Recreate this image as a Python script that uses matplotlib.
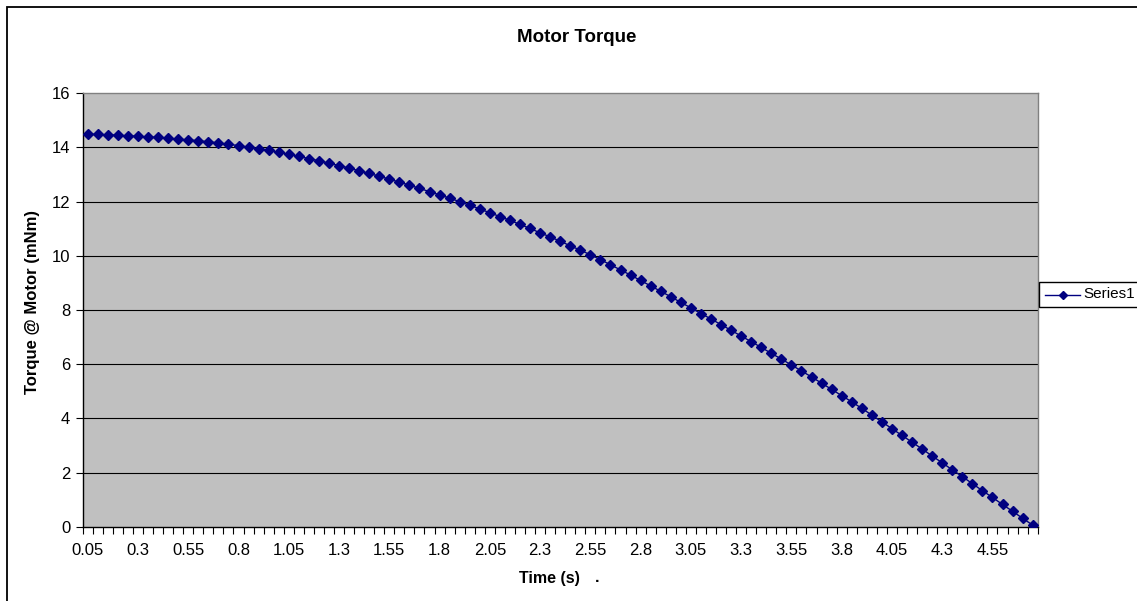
import numpy as np
import matplotlib
matplotlib.use("Agg")
import matplotlib.pyplot as plt
from matplotlib.patches import Rectangle
from matplotlib.lines import Line2D

# ---- data ----
time_labels = [f"{0.05 * (i + 1):.2f}".rstrip("0").rstrip(".") for i in range(95)]
torque = [14.49, 14.48, 14.47, 14.45, 14.43, 14.41, 14.39, 14.37, 14.34, 14.31,
          14.28, 14.25, 14.21, 14.17, 14.12, 14.07, 14.01, 13.95, 13.89, 13.82,
          13.75, 13.67, 13.59, 13.51, 13.42, 13.33, 13.24, 13.14, 13.04, 12.94,
          12.83, 12.72, 12.61, 12.49, 12.37, 12.25, 12.13, 12.00, 11.87, 11.73,
          11.59, 11.45, 11.31, 11.16, 11.01, 10.85, 10.70, 10.54, 10.37, 10.21,
          10.04, 9.86, 9.67, 9.48, 9.29, 9.09, 8.89, 8.69, 8.49, 8.28,
          8.08, 7.87, 7.67, 7.46, 7.25, 7.04, 6.83, 6.62, 6.40, 6.19,
          5.97, 5.75, 5.53, 5.30, 5.07, 4.84, 4.61, 4.37, 4.12, 3.87,
          3.62, 3.37, 3.12, 2.87, 2.61, 2.36, 2.10, 1.85, 1.59, 1.33,
          1.08, 0.82, 0.57, 0.31, 0.06]
yticks = [0, 2, 4, 6, 8, 10, 12, 14, 16]
label_every = 5
series_name = "Series1"

W, H = 1137, 601
fig = plt.figure(figsize=(W / 100, H / 100), dpi=100)
plt.rcParams['font.family'] = ['Liberation Sans', 'DejaVu Sans']

# outer chart border (cut at right/bottom)
fig.add_artist(Rectangle((7 / W, -0.1), 1.2, 1 - 7 / H + 0.1, transform=fig.transFigure,
                         fill=False, edgecolor='black', linewidth=1.3))

L, R, T, B = 82.7, 1037.7, 93.3, 526.7
ax = fig.add_axes([L / W, 1 - B / H, (R - L) / W, (B - T) / H])
ax.set_facecolor('#C0C0C0')

x = np.arange(len(torque))
ax.plot(x, torque, color='#000080', linewidth=1.0, marker='D', markersize=5.3,
        markerfacecolor='#000080', markeredgecolor='#000080', zorder=3)

ax.set_xlim(-0.5, len(torque) - 0.5)
ax.set_ylim(0, 16)
ax.set_yticks(yticks)
ax.set_yticklabels([str(v) for v in yticks])
for v in yticks[1:-1]:
    ax.axhline(v, color='black', linewidth=0.8, zorder=1)

# category ticks between categories, labels at category centres
ax.set_xticks(np.arange(-0.5, len(torque), 1.0))
ax.set_xticklabels([])
ax.set_xticks(np.arange(0, len(torque), label_every), minor=True)
ax.set_xticklabels([time_labels[i] for i in range(0, len(torque), label_every)], minor=True)
ax.tick_params(axis='x', which='major', direction='out', length=5, width=0.8, color='black')
ax.tick_params(axis='x', which='minor', length=0, pad=12, labelsize=12)
ax.tick_params(axis='y', direction='out', length=5, width=0.8, pad=4, labelsize=12)

for s in ['left', 'bottom']:
    ax.spines[s].set_color('black')
    ax.spines[s].set_linewidth(1.0)
for s in ['top', 'right']:
    ax.spines[s].set_color('#808080')
    ax.spines[s].set_linewidth(1.0)

fig.text(577 / W, 1 - 37 / H, "Motor Torque", ha='center', va='center',
         fontsize=13.5, fontweight='bold')
fig.text(33 / W, 1 - 302 / H, "Torque @ Motor (mNm)", ha='center', va='center',
         rotation=90, fontsize=12, fontweight='bold')
fig.text(519 / W, 1 - 578 / H, "Time (s)", ha='left', va='center',
         fontsize=11.5, fontweight='bold')
fig.text(597 / W, 1 - 578 / H, ".", ha='center', va='center',
         fontsize=11.5, fontweight='bold')

# legend box
fig.add_artist(Rectangle((1039 / W, 1 - 307 / H), 0.2, 25 / H, transform=fig.transFigure,
                         fill=True, facecolor='white', edgecolor='black', linewidth=1.0))
fig.add_artist(Line2D([1045 / W, 1080 / W], [1 - 294.5 / H] * 2, transform=fig.transFigure,
                      color='#000080', linewidth=1.0))
fig.add_artist(Line2D([1062.5 / W], [1 - 294.5 / H], transform=fig.transFigure,
                      color='#000080', marker='D', markersize=4.5))
fig.text(1083 / W, 1 - 294.5 / H, series_name, ha='left', va='center', fontsize=11)

fig.savefig("out.png", dpi=100)
